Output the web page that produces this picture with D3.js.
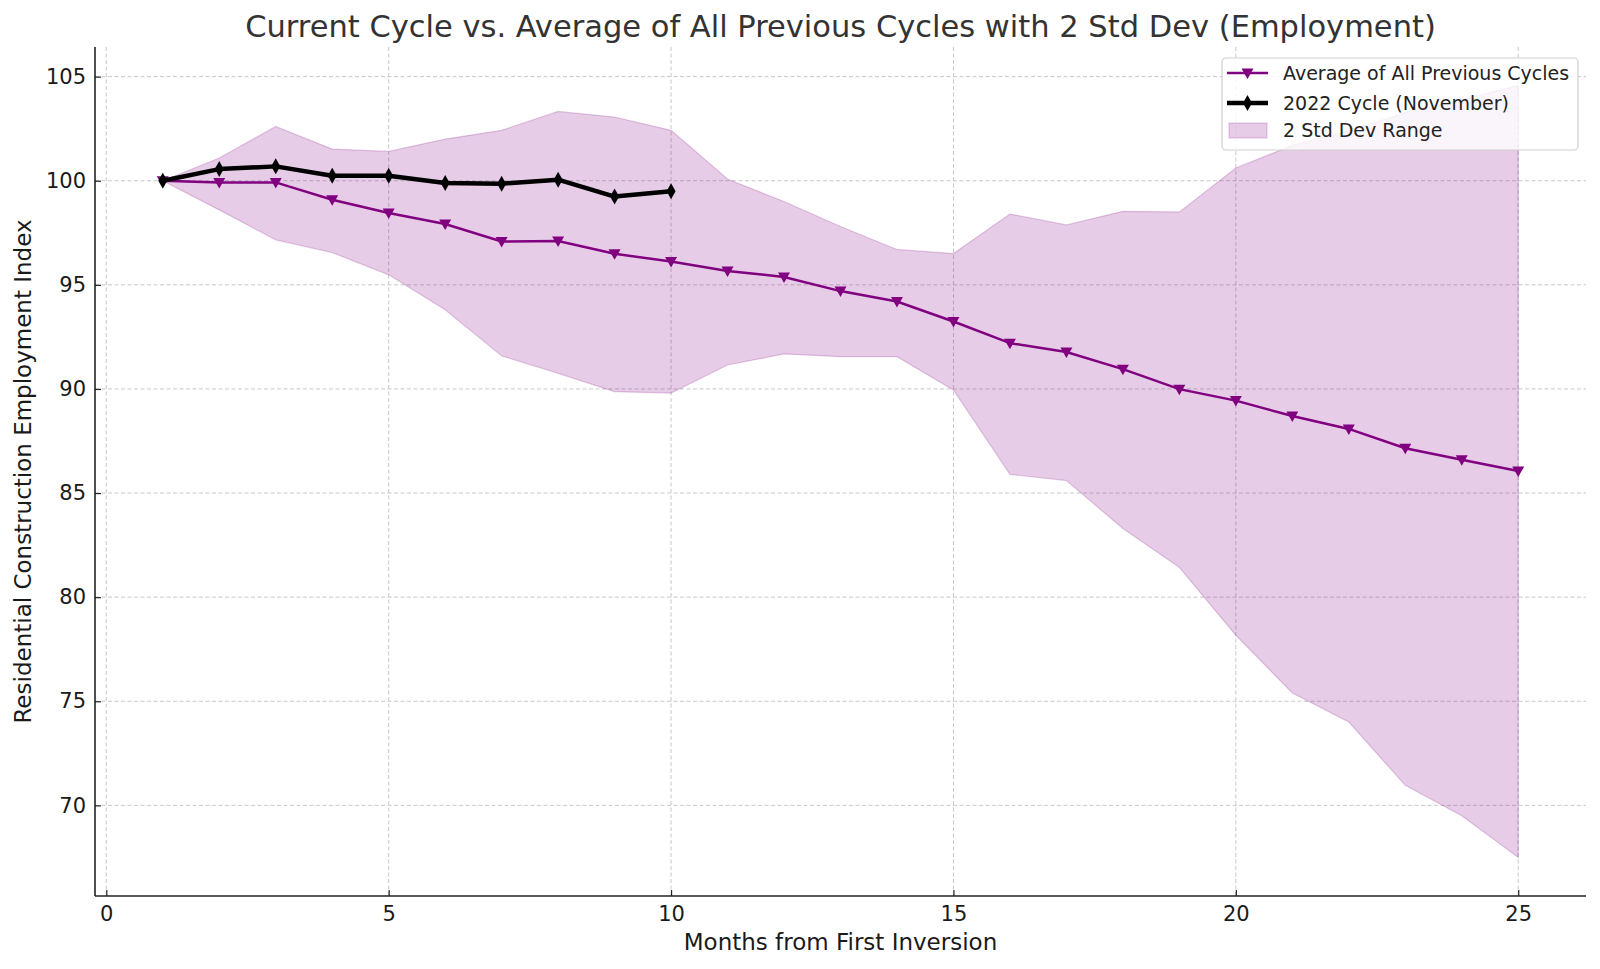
<!DOCTYPE html>
<html>
<head>
<meta charset="utf-8">
<script src="https://cdn.jsdelivr.net/npm/d3@7"></script>
<style>
  body { margin: 0; background: #fff; }
  svg { font-family: "DejaVu Sans", sans-serif; }
</style>
</head>
<body>
<svg class="chart"></svg>
<script>
// data
var months = [1, 2, 3, 4, 5, 6, 7, 8, 9, 10, 11, 12, 13, 14, 15, 16, 17, 18, 19, 20, 21, 22, 23, 24, 25];
var avgPrev = [100, 99.92, 99.92, 99.09, 98.45, 97.92, 97.08, 97.1, 96.49, 96.12, 95.67, 95.38, 94.7, 94.2,
               93.24, 92.2, 91.77, 90.95, 89.99, 89.44, 88.7, 88.08, 87.15, 86.6, 86.06];
var bandUpper = [100, 101.09, 102.61, 101.52, 101.41, 102.0, 102.42, 103.33, 103.06, 102.42, 100.08, 99.0,
                 97.8, 96.7, 96.5, 98.4, 97.88, 98.53, 98.5, 100.61, 101.7, 102.4, 103.27, 103.9, 104.57];
var bandLower = [100, 98.6, 97.16, 96.55, 95.48, 93.8, 91.59, 90.75, 89.87, 89.8, 91.15, 91.68, 91.55, 91.55,
                 89.95, 85.9, 85.6, 83.3, 81.43, 78.17, 75.4, 74.0, 70.96, 69.5, 67.5];
var cycle2022 = [100, 100.56, 100.69, 100.24, 100.24, 99.89, 99.86, 100.05, 99.24, 99.49];
var xTicks = [0, 5, 10, 15, 20, 25];
var yTicks = [70, 75, 80, 85, 90, 95, 100, 105];

var W = 1600, H = 969;
var margin = {top: 47, right: 14, bottom: 73, left: 95},
    width = W - margin.left - margin.right,
    height = H - margin.top - margin.bottom;

var svg = d3.select(".chart")
    .attr("width", W)
    .attr("height", H);

var g = svg.append("g")
    .attr("transform", "translate(" + margin.left + "," + margin.top + ")");

// matplotlib-like 5% padding
var xMin = d3.min(months), xMax = d3.max(months),
    yMin = d3.min(bandLower), yMax = d3.max(bandUpper);
var xPad = (xMax - xMin) * 0.05, yPad = (yMax - yMin) * 0.05;

var xScale = d3.scaleLinear().domain([xMin - xPad, xMax + xPad]).range([0, width]),
    yScale = d3.scaleLinear().domain([yMin - yPad, yMax + yPad]).range([height, 0]);

// grid
g.append("g").selectAll("line").data(xTicks).enter().append("line")
    .attr("x1", function(d) { return xScale(d); })
    .attr("x2", function(d) { return xScale(d); })
    .attr("y1", 0).attr("y2", height)
    .attr("stroke", "#c8c8c8").attr("stroke-width", 1).attr("stroke-dasharray", "4,2.5");
g.append("g").selectAll("line").data(yTicks).enter().append("line")
    .attr("y1", function(d) { return yScale(d); })
    .attr("y2", function(d) { return yScale(d); })
    .attr("x1", 0).attr("x2", width)
    .attr("stroke", "#c8c8c8").attr("stroke-width", 1).attr("stroke-dasharray", "4,2.5");

// std dev band
var bandData = months.map(function(m, i) { return {m: m, lo: bandLower[i], hi: bandUpper[i]}; });
var area = d3.area()
    .x(function(d) { return xScale(d.m); })
    .y0(function(d) { return yScale(d.lo); })
    .y1(function(d) { return yScale(d.hi); });
g.append("path")
    .datum(bandData)
    .attr("d", area)
    .attr("fill", "purple").attr("fill-opacity", 0.2)
    .attr("stroke", "purple").attr("stroke-opacity", 0.2).attr("stroke-width", 1.2);

// average line
var line = d3.line()
    .x(function(d) { return xScale(d[0]); })
    .y(function(d) { return yScale(d[1]); });
var avgData = months.map(function(m, i) { return [m, avgPrev[i]]; });
g.append("path")
    .datum(avgData)
    .attr("d", line)
    .attr("fill", "none").attr("stroke", "purple").attr("stroke-width", 2.5);

var triDown = "M-6,-4.5L6,-4.5L0,6Z";
g.append("g").selectAll("path").data(avgData).enter().append("path")
    .attr("d", triDown)
    .attr("transform", function(d) { return "translate(" + xScale(d[0]) + "," + yScale(d[1]) + ")"; })
    .attr("fill", "purple");

// 2022 cycle
var curData = cycle2022.map(function(v, i) { return [months[i], v]; });
g.append("path")
    .datum(curData)
    .attr("d", line)
    .attr("fill", "none").attr("stroke", "black").attr("stroke-width", 4.5)
    .attr("stroke-linejoin", "round");

var thinDiamond = "M0,-8L4.5,0L0,8L-4.5,0Z";
g.append("g").selectAll("path").data(curData).enter().append("path")
    .attr("d", thinDiamond)
    .attr("transform", function(d) { return "translate(" + xScale(d[0]) + "," + yScale(d[1]) + ")"; })
    .attr("fill", "black");

// axes, ticks pointing in
var xAxis = d3.axisBottom(xScale).tickValues(xTicks).tickSize(-6).tickPadding(10).tickFormat(d3.format("d"));
var yAxis = d3.axisLeft(yScale).tickValues(yTicks).tickSize(-6).tickPadding(9).tickFormat(d3.format("d"));

var gx = g.append("g")
    .attr("class", "x axis")
    .attr("transform", "translate(0," + height + ")")
    .call(xAxis);
var gy = g.append("g")
    .attr("class", "y axis")
    .call(yAxis);

[gx, gy].forEach(function(a) {
  a.select(".domain").remove();
  a.selectAll(".tick line").attr("stroke", "#222").attr("stroke-width", 1.2);
  a.selectAll(".tick text").attr("fill", "#1a1a1a").style("font-size", "21px").style("font-family", "DejaVu Sans");
});

// spines
g.append("line").attr("x1", 0).attr("x2", 0).attr("y1", 0).attr("y2", height)
    .attr("stroke", "#222").attr("stroke-width", 1.6);
g.append("line").attr("x1", 0).attr("x2", width).attr("y1", height).attr("y2", height)
    .attr("stroke", "#222").attr("stroke-width", 1.6);

// labels
svg.append("text")
    .attr("x", margin.left + width / 2).attr("y", 37)
    .attr("text-anchor", "middle")
    .attr("fill", "#333")
    .style("font-size", "30.5px")
    .text("Current Cycle vs. Average of All Previous Cycles with 2 Std Dev (Employment)");

svg.append("text")
    .attr("x", margin.left + width / 2).attr("y", 950)
    .attr("text-anchor", "middle")
    .attr("fill", "#1a1a1a")
    .style("font-size", "23px")
    .text("Months from First Inversion");

svg.append("text")
    .attr("transform", "translate(31," + (margin.top + height / 2) + ") rotate(-90)")
    .attr("text-anchor", "middle")
    .attr("fill", "#1a1a1a")
    .style("font-size", "23px")
    .text("Residential Construction Employment Index");

// legend
var legend = svg.append("g").attr("transform", "translate(1222,58)");
legend.append("rect")
    .attr("width", 356).attr("height", 92).attr("rx", 4)
    .attr("fill", "white").attr("fill-opacity", 0.8)
    .attr("stroke", "#d0d0d0").attr("stroke-width", 1.2);

var items = [
  {label: "Average of All Previous Cycles", type: "avg"},
  {label: "2022 Cycle (November)", type: "cur"},
  {label: "2 Std Dev Range", type: "band"}
];
var rowY = [15, 45, 72];
items.forEach(function(it, i) {
  var row = legend.append("g").attr("transform", "translate(0," + rowY[i] + ")");
  if (it.type === "avg") {
    row.append("line").attr("x1", 5).attr("x2", 46).attr("stroke", "purple").attr("stroke-width", 2.5);
    row.append("path").attr("d", triDown).attr("transform", "translate(25.5,0)").attr("fill", "purple");
  } else if (it.type === "cur") {
    row.append("line").attr("x1", 5).attr("x2", 46).attr("stroke", "black").attr("stroke-width", 4.5);
    row.append("path").attr("d", thinDiamond).attr("transform", "translate(25.5,0)").attr("fill", "black");
  } else {
    row.append("rect").attr("x", 7).attr("y", -7).attr("width", 38).attr("height", 15)
        .attr("fill", "purple").attr("fill-opacity", 0.2)
        .attr("stroke", "purple").attr("stroke-opacity", 0.2).attr("stroke-width", 1.2);
  }
  row.append("text")
      .attr("x", 61).attr("y", 7)
      .attr("fill", "#222")
      .style("font-size", "19px")
      .text(it.label);
});
</script>
</body>
</html>
